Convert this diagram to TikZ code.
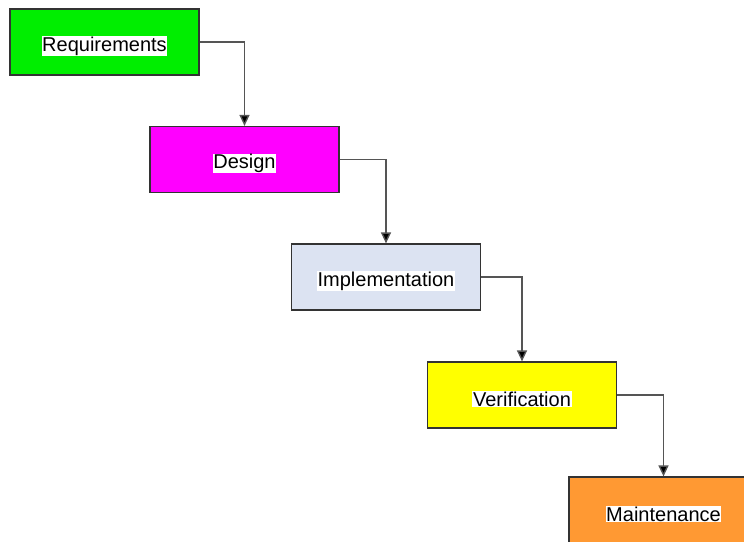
\documentclass[tikz,border=0pt]{standalone}
\usepackage{fontspec}
\setmainfont{Liberation Sans}
\usetikzlibrary{arrows.meta}
\definecolor{reqgreen}{HTML}{00EE00}
\definecolor{desmag}{HTML}{FF00FF}
\definecolor{implblue}{HTML}{DCE3F2}
\definecolor{veryellow}{HTML}{FFFF00}
\definecolor{mainorange}{HTML}{FF9933}
\definecolor{linkgray}{HTML}{555555}
\begin{document}
\begin{tikzpicture}[x=1pt,y=-1pt,
  phase/.style={draw=black!80,line width=1.2pt,minimum width=189pt,minimum height=66pt,inner sep=0pt},
  lbl/.style={fill=white,inner sep=0.6pt,yshift=-4pt,font=\fontsize{20}{22}\selectfont},
  link/.style={draw=linkgray,line width=1.4pt,-{Triangle[length=11pt,width=10pt,fill=black]}}]
\useasboundingbox (0,0) rectangle (744,541);
\begin{scope}
\clip (0,0) rectangle (744,541);
\node[phase,fill=reqgreen] (req) at (104.5,42) {};
\node[phase,fill=desmag] (des) at (244.5,159.5) {};
\node[phase,fill=implblue] (imp) at (386,277) {};
\node[phase,fill=veryellow] (ver) at (522,395) {};
\node[phase,fill=mainorange] (mai) at (663.5,510) {};
\node[lbl] (treq) at (req) {Requirements};
\node[lbl] (tdes) at (des) {Design};
\node[lbl] (timp) at (imp) {Implementation};
\node[lbl] (tver) at (ver) {Verification};
\node[lbl] (tmai) at (mai) {Maintenance};
\draw[link] (req.east) -| (des.north);
\draw[link] (des.east) -| (imp.north);
\draw[link] (imp.east) -| (ver.north);
\draw[link] (ver.east) -| (mai.north);
\end{scope}
\end{tikzpicture}
\end{document}
